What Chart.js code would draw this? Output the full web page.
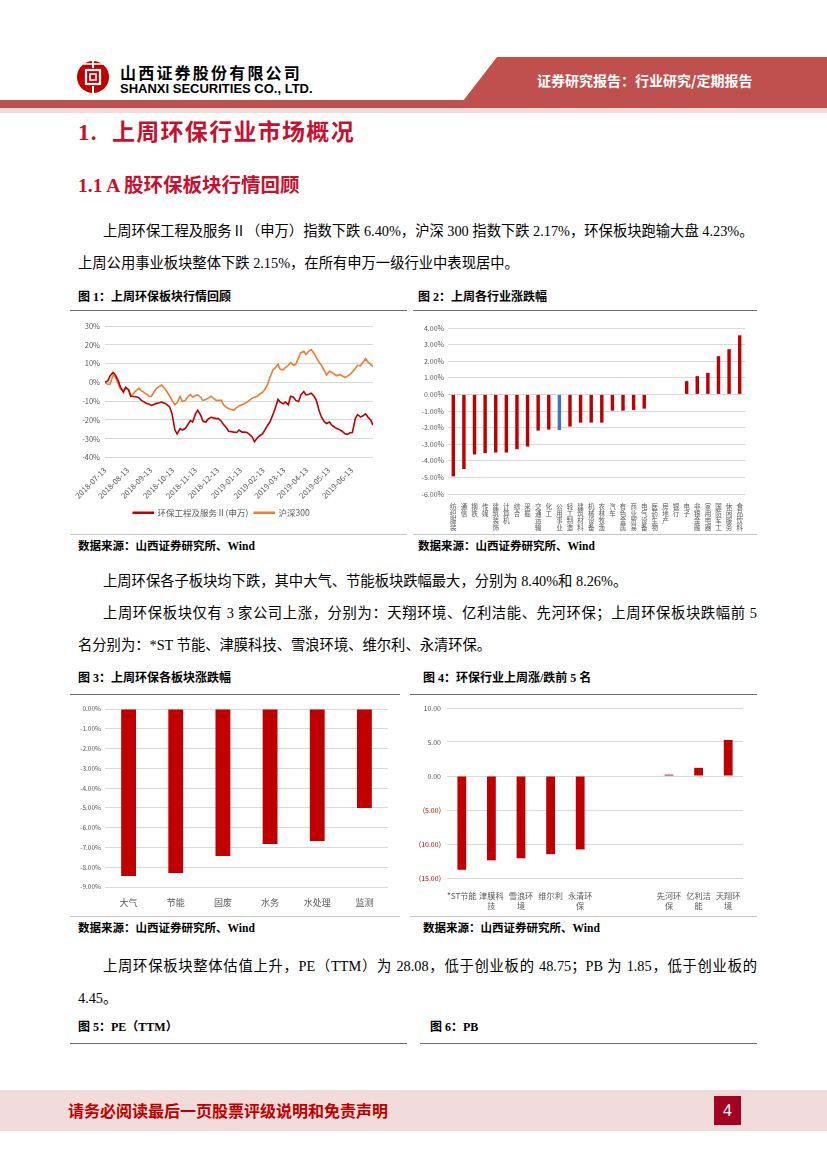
<!DOCTYPE html>
<html><head><meta charset="utf-8">
<script src="https://cdn.jsdelivr.net/npm/chart.js@4.4.0/dist/chart.umd.min.js"></script>
<style>
body{margin:0;width:827px;height:1169px;position:relative;background:#fff;font-family:"Liberation Serif","Noto Sans CJK SC",serif;overflow:hidden}
.t{position:absolute;white-space:nowrap;line-height:1;color:#000}
.p{font-size:14.3px}
.ft{font-size:12px;font-weight:bold}
.src{font-size:11.5px;font-weight:bold}
.h{color:#C8102E;font-weight:bold;font-family:"Liberation Serif","Noto Sans CJK SC"}
.rule{position:absolute;height:0;border-top:1.5px solid #6f6f6f}
.rule2{position:absolute;height:0;border-top:1px solid #c8c8c8}
.cv{position:absolute}
</style></head><body>

<!-- header -->
<svg style="position:absolute;left:0;top:0" width="827" height="120">
  <polygon points="497,57 827,57 827,101 463,101" fill="#C0504D"/>
  <rect x="0" y="100" width="827" height="8" fill="#C0504D"/>
  <rect x="0" y="108" width="827" height="5" fill="#F2DCDB"/>
  <circle cx="93" cy="77" r="16" fill="#C00000"/>
  <rect x="86" y="70" width="14" height="14" fill="none" stroke="#fff" stroke-width="2.2"/>
  <rect x="90" y="74" width="6" height="6" fill="none" stroke="#fff" stroke-width="1.6"/>
  <line x1="93" y1="61" x2="93" y2="68" stroke="#fff" stroke-width="2"/>
  <line x1="93" y1="86" x2="93" y2="93" stroke="#fff" stroke-width="2"/>
  <line x1="79" y1="64" x2="107" y2="64" stroke="#fff" stroke-width="1.6"/>
</svg>
<div class="t" style="left:120px;top:64px;font-size:16px;font-weight:bold;letter-spacing:2.2px;font-family:'Noto Sans CJK SC'">山西证券股份有限公司</div>
<div class="t" style="left:120px;top:82px;font-size:13px;font-weight:bold;font-family:'Liberation Sans Narrow','Liberation Sans'">SHANXI SECURITIES CO., LTD.</div>
<div class="t" style="left:537px;top:73px;font-size:14px;font-weight:bold;color:#fff;font-family:'Noto Sans CJK SC'">证券研究报告：行业研究/定期报告</div>

<!-- headings -->
<div class="t h" style="left:78px;top:121px;font-size:23px;letter-spacing:1.3px">1.&nbsp; 上周环保行业市场概况</div>
<div class="t h" style="left:78px;top:176px;font-size:19.5px">1.1 A 股环保板块行情回顾</div>

<div class="t p" style="left:103px;top:224px">上周环保工程及服务Ⅱ（申万）指数下跌 6.40%，沪深 300 指数下跌 2.17%，环保板块跑输大盘 4.23%。</div>
<div class="t p" style="left:78px;top:256px">上周公用事业板块整体下跌 2.15%，在所有申万一级行业中表现居中。</div>

<div class="t ft" style="left:78px;top:291px">图 1：上周环保板块行情回顾</div>
<div class="t ft" style="left:418px;top:291px">图 2：上周各行业涨跌幅</div>
<div class="rule" style="left:70px;top:310px;width:337px"></div>
<div class="rule" style="left:413px;top:310px;width:344px"></div>

<canvas id="c1" class="cv" style="left:70px;top:313px" width="337" height="220"></canvas>
<canvas id="c2" class="cv" style="left:407px;top:313px" width="350" height="220"></canvas>
<div class="rule2" style="left:70px;top:534px;width:337px"></div>
<div class="rule2" style="left:413px;top:534px;width:344px"></div>

<div class="t src" style="left:78px;top:541px">数据来源：山西证券研究所、Wind</div>
<div class="t src" style="left:418px;top:541px">数据来源：山西证券研究所、Wind</div>

<div class="t p" style="left:103px;top:574px">上周环保各子板块均下跌，其中大气、节能板块跌幅最大，分别为 8.40%和 8.26%。</div>
<div class="t p" style="left:103px;top:606px;width:654px;text-align:justify;text-align-last:justify;white-space:normal">上周环保板块仅有 3 家公司上涨，分别为：天翔环境、亿利洁能、先河环保；上周环保板块跌幅前 5</div>
<div class="t p" style="left:78px;top:638px">名分别为：*ST 节能、津膜科技、雪浪环境、维尔利、永清环保。</div>

<div class="t ft" style="left:78px;top:672px">图 3：上周环保各板块涨跌幅</div>
<div class="t ft" style="left:423px;top:672px">图 4：环保行业上周涨/跌前 5 名</div>
<div class="rule" style="left:70px;top:694px;width:330px"></div>
<div class="rule" style="left:410px;top:694px;width:347px"></div>

<canvas id="c3" class="cv" style="left:70px;top:697px" width="330" height="218"></canvas>
<canvas id="c4" class="cv" style="left:410px;top:697px" width="347" height="218"></canvas>
<div class="rule2" style="left:70px;top:916px;width:330px"></div>
<div class="rule2" style="left:410px;top:916px;width:347px"></div>

<div class="t src" style="left:78px;top:923px">数据来源：山西证券研究所、Wind</div>
<div class="t src" style="left:423px;top:923px">数据来源：山西证券研究所、Wind</div>

<div class="t p" style="left:103px;top:959px;width:654px;text-align:justify;text-align-last:justify;white-space:normal">上周环保板块整体估值上升，PE（TTM）为 28.08，低于创业板的 48.75；PB 为 1.85，低于创业板的</div>
<div class="t p" style="left:78px;top:991px">4.45。</div>

<div class="t ft" style="left:78px;top:1021px">图 5：PE（TTM）</div>
<div class="t ft" style="left:430px;top:1021px">图 6：PB</div>
<div class="rule" style="left:70px;top:1043px;width:337px"></div>
<div class="rule" style="left:420px;top:1043px;width:337px"></div>

<!-- footer -->
<div style="position:absolute;left:0;top:1090px;width:827px;height:41px;background:#F2DCDB"></div>
<div class="t" style="left:68px;top:1102px;font-size:16px;font-weight:bold;color:#C00000;font-family:'Noto Sans CJK SC'">请务必阅读最后一页股票评级说明和免责声明</div>
<div style="position:absolute;left:714px;top:1096px;width:27px;height:29px;background:#A50021;color:#fff;font:16px 'Liberation Sans';text-align:center;line-height:29px">4</div>

<script>
// ---------- Figure 1 data ----------
const lineDates = ['2018-07-13','2018-07-17','2018-07-20','2018-07-24','2018-07-27','2018-07-31','2018-08-03','2018-08-07','2018-08-10','2018-08-14','2018-08-17','2018-08-21','2018-08-24','2018-08-28','2018-08-31','2018-09-04','2018-09-07','2018-09-11','2018-09-14','2018-09-18','2018-09-21','2018-09-25','2018-09-28','2018-10-02','2018-10-05','2018-10-09','2018-10-12','2018-10-16','2018-10-19','2018-10-23','2018-10-26','2018-10-30','2018-11-02','2018-11-06','2018-11-09','2018-11-13','2018-11-16','2018-11-20','2018-11-23','2018-11-27','2018-11-30','2018-12-04','2018-12-07','2018-12-11','2018-12-14','2018-12-18','2018-12-21','2018-12-25','2018-12-28','2019-01-01','2019-01-04','2019-01-08','2019-01-11','2019-01-15','2019-01-18','2019-01-22','2019-01-25','2019-01-29','2019-02-01','2019-02-05','2019-02-08','2019-02-12','2019-02-15','2019-02-19','2019-02-22','2019-02-26','2019-03-01','2019-03-05','2019-03-08','2019-03-12','2019-03-15','2019-03-19','2019-03-22','2019-03-26','2019-03-29','2019-04-02','2019-04-05','2019-04-09','2019-04-12','2019-04-16','2019-04-19','2019-04-23','2019-04-26','2019-04-30','2019-05-03','2019-05-07','2019-05-10','2019-05-14','2019-05-17','2019-05-21','2019-05-24','2019-05-28','2019-05-31','2019-06-04','2019-06-07','2019-06-11','2019-06-14','2019-06-18','2019-06-21','2019-06-25','2019-06-28','2019-07-02','2019-07-05','2019-07-09','2019-07-12'];
const envIndex = [0,0.9,3.5,5.3,4.0,0.9,-2.6,-5.3,-2.6,-3.9,-7.4,-7.5,-7.7,-8.2,-9.5,-10.4,-11.1,-11.6,-12.3,-11.6,-11.2,-10.9,-10.5,-11.1,-11.9,-13.2,-16.7,-25.4,-27.4,-24.6,-25.4,-24.6,-22.8,-20.4,-21.1,-16.7,-14.9,-17.5,-20.7,-21.1,-19.6,-18.6,-18.9,-19.3,-19.3,-20.7,-22.5,-24.2,-26.0,-26.3,-26.5,-26.7,-25.4,-26.5,-26.5,-26.7,-27.7,-29.1,-31.6,-29.5,-28.4,-27.4,-25.4,-22.8,-21.1,-17.2,-14.0,-9.1,-10.5,-11.4,-10.5,-11.9,-7.4,-7.9,-9.6,-10.2,-6.7,-4.9,-6.7,-6.3,-5.8,-7.4,-9.6,-15.4,-18.4,-21.1,-21.9,-21.1,-22.8,-23.9,-24.6,-25.3,-26.0,-27.4,-27.7,-26.8,-26.7,-19.3,-17.2,-18.4,-17.9,-16.8,-18.4,-20.2,-22.8];
const hs300 = [0,-1.1,-0.9,3.9,3.0,-0.9,-3.5,-4.4,-3.0,-3.9,-7.4,-5.8,-4.4,-3.2,-4.4,-5.3,-6.1,-7.5,-7.4,-4.9,-3.2,-2.1,-1.4,-3.2,-4.9,-7.4,-9.6,-11.9,-10.9,-7.4,-10.2,-9.6,-7.9,-6.5,-7.9,-7.0,-6.7,-7.9,-9.6,-9.1,-8.4,-7.4,-8.4,-9.6,-9.5,-9.6,-11.9,-13.3,-14.0,-14.4,-14.9,-13.3,-12.6,-11.9,-11.4,-10.5,-9.6,-8.4,-7.9,-7.4,-6.3,-5.3,-3.9,-0.9,2.6,6.5,7.7,9.6,7.0,6.7,7.9,9.1,10.5,9.1,9.6,13.2,15.8,16.5,14.9,16.7,17.5,15.4,13.2,10.5,9.1,6.1,3.9,6.0,5.3,4.2,3.5,4.2,3.5,2.6,3.2,4.4,5.6,7.4,9.1,8.8,10.5,12.6,10.9,9.6,8.4];
const lineTickDates = ['2018-07-13','2018-08-13','2018-09-13','2018-10-13','2018-11-13','2018-12-13','2019-01-13','2019-02-13','2019-03-13','2019-04-13','2019-05-13','2019-06-13'];
const lineSeriesNames = ['环保工程及服务Ⅱ(申万)','沪深300'];

// ---------- Figure 2 data ----------
const industries = ['纺织服装','通信','钢铁','传媒','建筑装饰','计算机','综合','采掘','交通运输','化工','公用事业','轻工制造','建筑材料','机械设备','农林牧渔','汽车','有色金属','商业贸易','电气设备','医药生物','房地产','银行','电子','非银金融','家用电器','国防军工','休闲服务','食品饮料'];
const industryChange = [-4.94,-4.50,-3.62,-3.54,-3.50,-3.50,-3.30,-3.14,-2.18,-2.12,-2.15,-1.94,-1.70,-1.70,-1.70,-0.98,-0.98,-0.94,-0.86,0,0,0,0.80,1.10,1.30,2.30,2.72,3.56];
const highlightIndustry = '公用事业';

// ---------- Figure 3 data ----------
const subsectors = ['大气','节能','固废','水务','水处理','监测'];
const subsectorChange = [-8.45,-8.29,-7.43,-6.82,-6.67,-5.00];

// ---------- Figure 4 data ----------
const stocks = ['*ST节能','津膜科技','雪浪环境','维尔利','永清环保','','','先河环保','亿利洁能','天翔环境'];
const stockChange = [-13.8,-12.4,-12.1,-11.5,-10.8,null,null,0.2,1.2,5.3];

const RED = '#C00000', ORANGE = '#ED7D31', BLUE = '#4472C4', GRID = '#D9D9D9', TXT = '#595959';
const FONT = '"Noto Sans CJK SC", "Liberation Sans", sans-serif';
Chart.defaults.font.family = FONT;
Chart.defaults.animation = false;
Chart.defaults.responsive = false;

function dayOf(s){const p=s.split('-').map(Number);return (Date.UTC(p[0],p[1]-1,p[2])-Date.UTC(2018,6,13))/86400000;}

// Figure 1
new Chart(document.getElementById('c1'), {
  type:'line',
  data:{datasets:[
    {label:lineSeriesNames[0], data:lineDates.map((d,i)=>({x:dayOf(d),y:envIndex[i]})), borderColor:RED, backgroundColor:RED, borderWidth:1.6, pointRadius:0, tension:0},
    {label:lineSeriesNames[1], data:lineDates.map((d,i)=>({x:dayOf(d),y:hs300[i]})), borderColor:ORANGE, backgroundColor:ORANGE, borderWidth:1.6, pointRadius:0, tension:0}
  ]},
  options:{
    layout:{padding:{left:0,right:34,top:13,bottom:6}},
    plugins:{legend:{position:'bottom',labels:{boxWidth:20,boxHeight:1,color:TXT,font:{size:8.5},padding:6}},tooltip:{enabled:false}},
    scales:{
      x:{type:'linear',min:0,max:364,grid:{display:false},border:{display:false},
        afterBuildTicks:s=>{s.ticks=lineTickDates.map(d=>({value:dayOf(d)}));},
        afterFit:s=>{s.height=45;},
        ticks:{autoSkip:false,minRotation:45,maxRotation:45,color:TXT,font:{size:7.8},padding:0,callback:(v,i)=>lineTickDates[i]}},
      y:{min:-40,max:30,grid:{color:GRID,drawTicks:false},border:{display:false},
        afterFit:s=>{s.width=35;},
        ticks:{stepSize:10,color:TXT,font:{size:7.5},padding:5,callback:v=>v+'%'}}
    }
  }
});

// Figure 2
new Chart(document.getElementById('c2'), {
  type:'bar',
  data:{labels:industries.map(n=>n.split('')),datasets:[{data:industryChange,backgroundColor:industries.map(n=>n===highlightIndustry?BLUE:RED),barPercentage:0.9,categoryPercentage:0.36}]},
  options:{
    layout:{padding:{left:0,right:12,top:15,bottom:0}},
    plugins:{legend:{display:false},tooltip:{enabled:false}},
    scales:{
      x:{grid:{display:false},border:{display:false},afterFit:s=>{s.height=39;},
        ticks:{autoSkip:false,maxRotation:0,minRotation:0,color:TXT,font:{size:6.5,lineHeight:1.08},padding:1}},
      y:{min:-6,max:4,grid:{color:GRID,drawTicks:false},border:{display:false},afterFit:s=>{s.width=41;},
        ticks:{stepSize:1,color:TXT,font:{size:7},padding:4,callback:v=>v.toFixed(2)+'%'}}
    }
  }
});

// Figure 3
new Chart(document.getElementById('c3'), {
  type:'bar',
  data:{labels:subsectors,datasets:[{data:subsectorChange,backgroundColor:RED,barPercentage:0.9,categoryPercentage:0.35}]},
  options:{
    layout:{padding:{left:0,right:12,top:12,bottom:0}},
    plugins:{legend:{display:false},tooltip:{enabled:false}},
    scales:{
      x:{grid:{display:false},border:{display:false},afterFit:s=>{s.height=28;},
        ticks:{color:TXT,font:{size:9},padding:2}},
      y:{min:-9,max:0,grid:{color:GRID,drawTicks:false},border:{display:false},afterFit:s=>{s.width=35;},
        ticks:{stepSize:1,color:TXT,font:{size:6.5},padding:4,callback:v=>v.toFixed(2)+'%'}}
    }
  }
});

// Figure 4
new Chart(document.getElementById('c4'), {
  type:'bar',
  data:{labels:stocks.map(n=>(n.length>3&&n[0]!=='*')?[n.slice(0,3),n.slice(3)]:n),
    datasets:[{data:stockChange,backgroundColor:RED,barPercentage:0.9,categoryPercentage:0.33}]},
  options:{
    layout:{padding:{left:0,right:14,top:11,bottom:0}},
    plugins:{legend:{display:false},tooltip:{enabled:false}},
    scales:{
      x:{grid:{display:false},border:{display:false},afterFit:s=>{s.height=37;},
        ticks:{autoSkip:false,maxRotation:0,minRotation:0,color:TXT,font:{size:8.2,lineHeight:1.25},padding:5}},
      y:{min:-15,max:10,grid:{color:GRID,drawTicks:false},border:{display:false},afterFit:s=>{s.width=37;},
        ticks:{stepSize:5,font:{size:7},padding:6,
          color:c=>c.tick&&c.tick.value<0?'#C00000':TXT,
          callback:v=>v<0?'('+Math.abs(v).toFixed(2)+')':v.toFixed(2)}}
    }
  }
});
</script>
</body></html>
